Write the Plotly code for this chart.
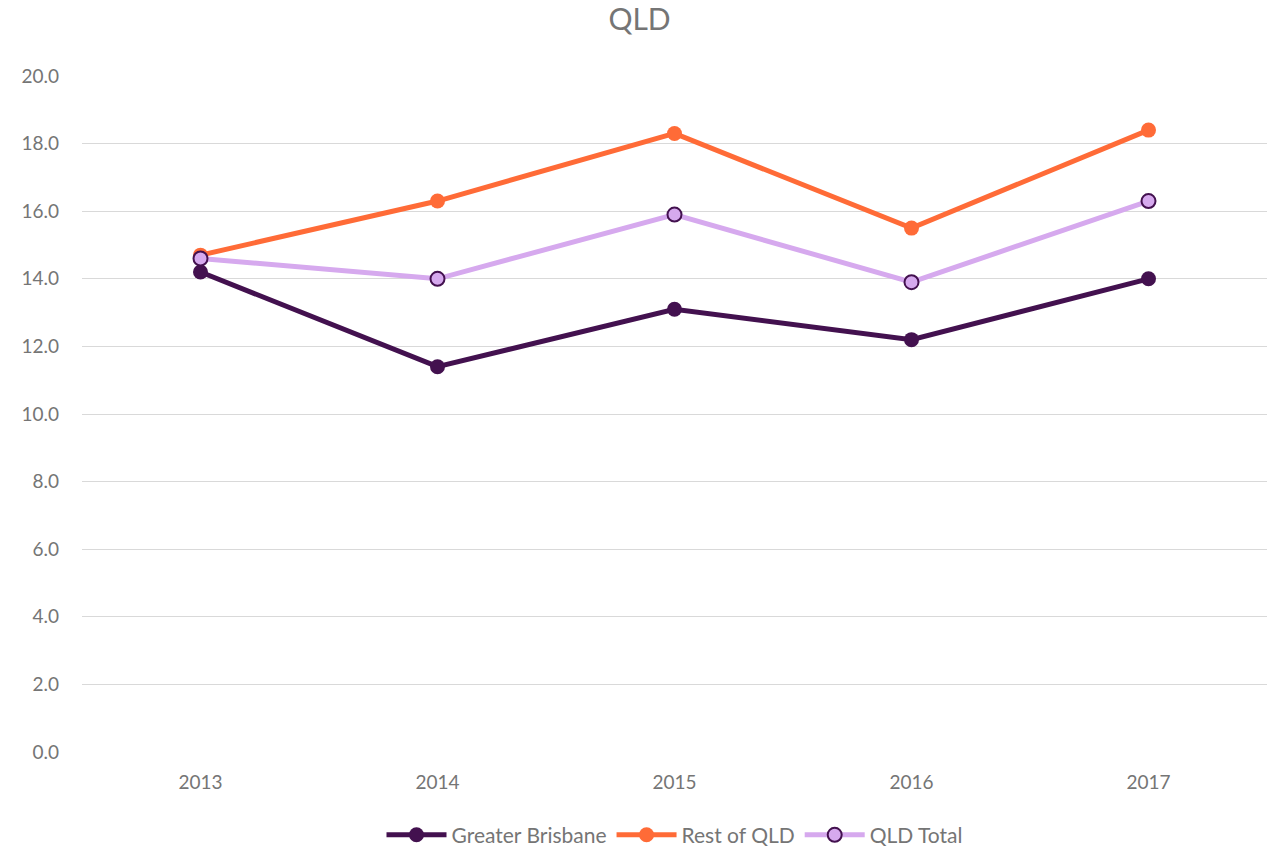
import plotly.graph_objects as go

years = ["2013", "2014", "2015", "2016", "2017"]
greater_brisbane = [14.2, 11.4, 13.1, 12.2, 14.0]
rest_of_qld = [14.7, 16.3, 18.3, 15.5, 18.4]
qld_total = [14.6, 14.0, 15.9, 13.9, 16.3]
y_ticks = [0, 2, 4, 6, 8, 10, 12, 14, 16, 18, 20]

DARK = "#43114F"
ORANGE = "#FF6B37"
LILAC = "#D6A9EE"
GRAY = "#757575"
FONT = "Lato, 'Open Sans', sans-serif"

fig = go.Figure()
fig.add_trace(go.Scatter(x=years, y=greater_brisbane, name="Greater Brisbane", mode="lines+markers",
                         line=dict(color=DARK, width=5),
                         marker=dict(size=15, color=DARK, line=dict(width=0))))
fig.add_trace(go.Scatter(x=years, y=rest_of_qld, name="Rest of QLD", mode="lines+markers",
                         line=dict(color=ORANGE, width=5),
                         marker=dict(size=15, color=ORANGE, line=dict(width=0))))
fig.add_trace(go.Scatter(x=years, y=qld_total, name="QLD Total", mode="lines+markers",
                         line=dict(color=LILAC, width=5),
                         marker=dict(size=14, color=LILAC, line=dict(width=2, color=DARK))))

fig.update_layout(
    width=1279, height=846,
    paper_bgcolor="white", plot_bgcolor="white",
    margin=dict(l=82, r=12, t=76, b=94, autoexpand=False),
    title=dict(text="QLD", x=0.5, xanchor="center", y=0.977, yanchor="middle",
               font=dict(family=FONT, size=30, color=GRAY)),
    font=dict(family=FONT, color=GRAY, size=19),
    showlegend=True,
    legend=dict(orientation="h", x=0.5, xanchor="center", y=-0.123, yanchor="middle",
                font=dict(family=FONT, size=21, color=GRAY), itemwidth=60,
                traceorder="normal"),
    xaxis=dict(type="category", range=[-0.5, 4.5], showgrid=False, showline=False,
               zeroline=False, ticks="", ticklabelstandoff=17, automargin=False,
               tickfont=dict(size=19, color=GRAY)),
    yaxis=dict(range=[0, 20], tickvals=y_ticks, tickformat=".1f", showgrid=True,
               gridcolor="#D9D9D9", gridwidth=1.3, zeroline=False, showline=False,
               ticks="", ticklabelstandoff=22, automargin=False,
               tickfont=dict(size=19, color=GRAY)),
)
fig.write_html("out.html", config={"displayModeBar": False},
               post_script="document.body.style.margin='0';")
